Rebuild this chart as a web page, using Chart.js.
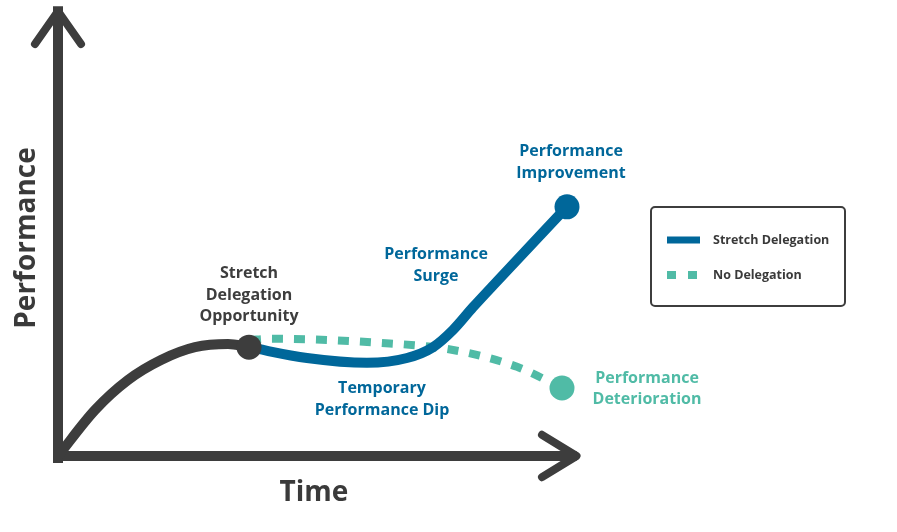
<!DOCTYPE html>
<html><head><meta charset="utf-8">
<script src="https://cdn.jsdelivr.net/npm/chart.js@4"></script>
<style>html,body{margin:0;padding:0;background:#fff;overflow:hidden}</style>
</head><body>
<canvas id="c" width="897" height="532"></canvas>
<script>
// ---- data (time units, performance units) ----
const baseTime = [0, 0.74, 1.4, 2.06, 2.74, 3.4, 3.82];
const basePerf = [0, 1.15, 1.9, 2.4, 2.72, 2.8, 2.72];
const stretchTime = [3.82, 4.98, 6.18, 6.98, 7.5, 7.9, 8.3, 8.7, 10.18];
const stretchPerf = [2.72, 2.45, 2.33, 2.45, 2.72, 3.15, 3.72, 4.26, 6.23];
const noDelTime = [3.84, 4.24, 6.44, 7.9, 9.18, 10.08];
const noDelPerf = [2.9, 2.93, 2.83, 2.65, 2.23, 1.7];
const seriesNames = ['Stretch Delegation', 'No Delegation'];
const axisTitles = ['Time', 'Performance'];
const annotations = [
  {lines: ['Stretch', 'Delegation', 'Opportunity'], t: 3.82, p: 4.025, color: 'gray'},
  {lines: ['Temporary', 'Performance Dip'], t: 6.48, p: 1.41, color: 'blue'},
  {lines: ['Performance', 'Surge'], t: 7.56, p: 4.76, color: 'blue'},
  {lines: ['Performance', 'Improvement'], t: 10.26, p: 7.34, color: 'blue'},
  {lines: ['Performance', 'Deterioration'], t: 11.78, p: 1.675, color: 'teal'}
];

const GRAY = '#3d3d3d', BLUE = '#00679a', TEAL = '#50bba6';
const colorMap = {gray: GRAY, blue: BLUE, teal: TEAL};
const FONT = '"Open Sans", Lato, sans-serif';
const W = 'bold';

function pts(xs, ys) { return xs.map((x, i) => ({x, y: ys[i]})); }

const yAxisTop = 11.12, xAxisEnd = 10.37;
const yArrow = [{x: -0.46, y: 10.3}, {x: 0, y: yAxisTop}, {x: 0.46, y: 10.3}];
const xArrow = [{x: 9.68, y: 0.53}, {x: xAxisEnd, y: 0}, {x: 9.68, y: -0.53}];

const lineBase = {showLine: true, pointRadius: 0, fill: false, clip: false, borderCapStyle: 'round', borderJoinStyle: 'round'};

const datasets = [
  Object.assign({}, lineBase, {label: 'dotGray', data: [{x: baseTime[baseTime.length-1], y: basePerf[basePerf.length-1]}], showLine: false, pointRadius: 12.5, pointBackgroundColor: GRAY, pointBorderWidth: 0, order: 1}),
  Object.assign({}, lineBase, {label: 'dotBlue', data: [{x: stretchTime[stretchTime.length-1], y: stretchPerf[stretchPerf.length-1]}], showLine: false, pointRadius: 12.5, pointBackgroundColor: BLUE, pointBorderWidth: 0, order: 2}),
  Object.assign({}, lineBase, {label: 'dotTeal', data: [{x: noDelTime[noDelTime.length-1], y: noDelPerf[noDelPerf.length-1]}], showLine: false, pointRadius: 12.5, pointBackgroundColor: TEAL, pointBorderWidth: 0, order: 3}),
  Object.assign({}, lineBase, {label: 'base', data: pts(baseTime, basePerf), borderColor: GRAY, borderWidth: 10, cubicInterpolationMode: 'monotone', order: 4}),
  Object.assign({}, lineBase, {label: seriesNames[0], data: pts(stretchTime, stretchPerf), borderColor: BLUE, borderWidth: 10, cubicInterpolationMode: 'monotone', order: 5}),
  Object.assign({}, lineBase, {label: seriesNames[1], data: pts(noDelTime, noDelPerf), borderColor: TEAL, borderWidth: 8, borderCapStyle: 'butt', borderDash: [11, 11], cubicInterpolationMode: 'monotone', order: 6}),
  Object.assign({}, lineBase, {label: 'yAxis', data: [{x: 0, y: -0.05}, {x: 0, y: yAxisTop}], borderColor: GRAY, borderWidth: 10, borderCapStyle: 'square', order: 7}),
  Object.assign({}, lineBase, {label: 'xAxis', data: [{x: -0.08, y: 0}, {x: xAxisEnd, y: 0}], borderColor: GRAY, borderWidth: 10, borderCapStyle: 'butt', order: 8}),
  Object.assign({}, lineBase, {label: 'yArrow', data: yArrow, borderColor: GRAY, borderWidth: 8, tension: 0, order: 9}),
  Object.assign({}, lineBase, {label: 'xArrow', data: xArrow, borderColor: GRAY, borderWidth: 8, tension: 0, order: 10})
];

const textPlugin = {
  id: 'textPlugin',
  afterDraw(chart) {
    const ctx = chart.ctx, xs = chart.scales.x, ys = chart.scales.y;
    ctx.save();
    ctx.textAlign = 'center';
    ctx.textBaseline = 'middle';
    ctx.font = W + ' 16px ' + FONT;
    annotations.forEach(a => {
      ctx.fillStyle = colorMap[a.color];
      const cx = xs.getPixelForValue(a.t), cy = ys.getPixelForValue(a.p);
      const lh = 21.6;
      const start = cy - (a.lines.length - 1) * lh / 2;
      a.lines.forEach((l, i) => ctx.fillText(l, cx, start + i * lh));
    });
    ctx.fillStyle = '#3a3a3a';
    ctx.font = W + ' 28px ' + FONT;
    ctx.fillText(axisTitles[0], xs.getPixelForValue(5.12), ys.getPixelForValue(-0.92));
    ctx.save();
    ctx.translate(xs.getPixelForValue(-0.62), ys.getPixelForValue(5.45));
    ctx.rotate(-Math.PI / 2);
    ctx.fillText(axisTitles[1], 0, 0);
    ctx.restore();
    // legend box
    const lx = 651, ly = 207, lw = 194, lh2 = 99, r = 4;
    ctx.strokeStyle = GRAY; ctx.lineWidth = 2;
    ctx.beginPath();
    ctx.moveTo(lx + r, ly); ctx.lineTo(lx + lw - r, ly); ctx.arcTo(lx + lw, ly, lx + lw, ly + r, r);
    ctx.lineTo(lx + lw, ly + lh2 - r); ctx.arcTo(lx + lw, ly + lh2, lx + lw - r, ly + lh2, r);
    ctx.lineTo(lx + r, ly + lh2); ctx.arcTo(lx, ly + lh2, lx, ly + lh2 - r, r);
    ctx.lineTo(lx, ly + r); ctx.arcTo(lx, ly, lx + r, ly, r);
    ctx.closePath(); ctx.stroke();
    const items = [chart.data.datasets[4], chart.data.datasets[5]];
    const rows = [240, 275];
    items.forEach((d, i) => {
      const y = rows[i];
      ctx.strokeStyle = d.borderColor;
      ctx.lineWidth = i === 0 ? 7 : 8;
      ctx.setLineDash(i === 0 ? [] : [9, 12]);
      ctx.lineCap = 'butt';
      ctx.beginPath(); ctx.moveTo(667, y); ctx.lineTo(700, y); ctx.stroke();
      ctx.setLineDash([]);
      ctx.fillStyle = '#3a3a3a';
      ctx.textAlign = 'left';
      ctx.font = W + ' 12.5px ' + FONT;
      ctx.fillText(d.label, 713, y);
    });
    ctx.restore();
  }
};

new Chart(document.getElementById('c'), {
  type: 'scatter',
  data: {datasets},
  options: {
    responsive: false,
    animation: false,
    devicePixelRatio: 1,
    layout: {padding: {left: 58, right: 39, top: 56, bottom: 76}},
    scales: {
      x: {type: 'linear', min: 0, max: 16, display: false},
      y: {type: 'linear', min: 0, max: 10, display: false}
    },
    plugins: {legend: {display: false}, tooltip: {enabled: false}}
  },
  plugins: [textPlugin]
});
</script>
</body></html>
